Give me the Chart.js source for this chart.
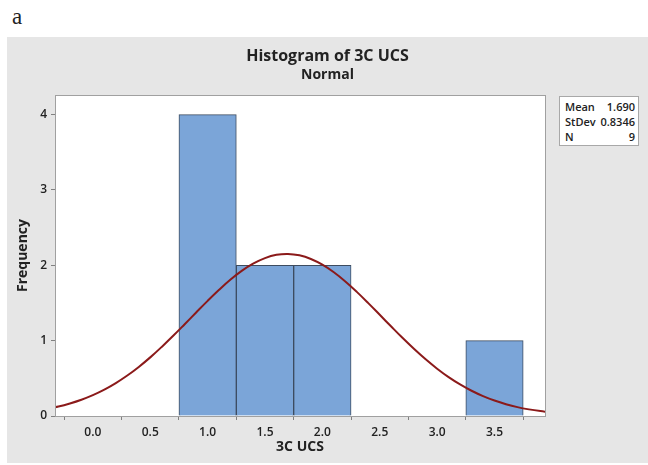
<!DOCTYPE html>
<html>
<head>
<meta charset="utf-8">
<script src="https://cdn.jsdelivr.net/npm/chart.js@4.4.1/dist/chart.umd.min.js"></script>
<style>
  html, body { margin: 0; padding: 0; background: #ffffff; width: 648px; height: 465px; overflow: hidden; }
  #lbl { position: absolute; left: 12px; top: 4px; font-family: "Liberation Serif", "DejaVu Serif", serif; font-size: 23px; color: #222; }
  #panel { position: absolute; left: 7px; top: 37px; width: 641px; height: 426px; background: #e6e6e6; }
  #stats { position: absolute; left: 559px; top: 96px; width: 80px; height: 50px; background: #fff; border: 1px solid #a8a8a8;
           font-family: "Open Sans", "Noto Sans", sans-serif; font-size: 11px; font-weight: 600; color: #222; line-height: 15px; padding-top: 2px; box-sizing: border-box; }
  #stats div { display: flex; justify-content: space-between; padding: 0 3px 0 5px; }
</style>
</head>
<body>
<div id="lbl">a</div>
<div id="panel"><canvas id="c" width="641" height="426"></canvas></div>
<div id="stats">
  <div><span>Mean</span><span>1.690</span></div>
  <div><span>StDev</span><span>0.8346</span></div>
  <div><span>N</span><span>9</span></div>
</div>
<script>
// Histogram bins (bin centers, width 0.5) and counts
const binCenters = [1.0, 1.5, 2.0, 3.5];
const binCounts  = [4, 2, 2, 1];
// Fitted normal curve (Mean 1.690, StDev 0.8346, N 9) read as points
const curveX = [-0.4,-0.3,-0.2,-0.1,0.0,0.1,0.2,0.3,0.4,0.5,0.6,0.7,0.8,0.9,1.0,1.1,1.2,1.3,1.4,1.5,1.6,1.7,1.8,1.9,2.0,2.1,2.2,2.3,2.4,2.5,2.6,2.7,2.8,2.9,3.0,3.1,3.2,3.3,3.4,3.5,3.6,3.7,3.8,3.9,4.0];
const curveY = [0.094,0.125,0.166,0.216,0.277,0.350,0.437,0.537,0.651,0.778,0.917,1.064,1.218,1.374,1.528,1.675,1.811,1.929,2.025,2.096,2.139,2.151,2.132,2.084,2.008,1.907,1.785,1.647,1.498,1.343,1.187,1.034,0.888,0.752,0.628,0.516,0.419,0.335,0.264,0.205,0.157,0.118,0.088,0.065,0.047];
const xTicks = [0.0, 0.5, 1.0, 1.5, 2.0, 2.5, 3.0, 3.5];
const yTicks = [0, 1, 2, 3, 4];

const FONT = '"Open Sans", "Noto Sans", sans-serif';

const frame = {
  id: 'frame',
  beforeDatasetsDraw(chart) {
    const a = chart.chartArea, ctx = chart.ctx;
    ctx.save();
    ctx.fillStyle = '#ffffff';
    ctx.fillRect(a.left, a.top, a.right - a.left, a.bottom - a.top);
    ctx.restore();
  },
  afterDraw(chart) {
    const a = chart.chartArea, ctx = chart.ctx;
    ctx.save();
    ctx.strokeStyle = '#a0a0a0';
    ctx.lineWidth = 1;
    ctx.strokeRect(a.left + 0.5, a.top + 0.5, a.right - a.left, a.bottom - a.top);
    ctx.restore();
  }
};

new Chart(document.getElementById('c'), {
  data: {
    datasets: [
      {
        type: 'line',
        data: curveX.map((x, i) => ({ x: x, y: curveY[i] })),
        borderColor: '#8b1a1a',
        borderWidth: 2,
        pointRadius: 0,
        tension: 0.4,
        fill: false,
        order: 0
      },
      {
        type: 'bar',
        data: binCenters.map((x, i) => ({ x: x, y: binCounts[i] })),
        backgroundColor: '#7ba5d8',
        borderColor: '#3d4c60',
        borderWidth: 1,
        barPercentage: 1.0,
        categoryPercentage: 1.0,
        order: 1
      }
    ]
  },
  options: {
    responsive: false,
    animation: false,
    layout: { padding: { left: 0, right: 0, top: 0, bottom: 0 } },
    plugins: {
      legend: { display: false },
      tooltip: { enabled: false },
      title: {
        display: true,
        text: 'Histogram of 3C UCS',
        color: '#222',
        font: { family: FONT, size: 16, weight: 'bold' },
        padding: { top: 10, bottom: 0 }
      },
      subtitle: {
        display: true,
        text: 'Normal',
        color: '#222',
        font: { family: FONT, size: 14, weight: 'bold' },
        padding: { top: 0, bottom: 12 }
      }
    },
    scales: {
      x: {
        type: 'linear',
        min: -0.33,
        max: 3.94,
        offset: false,
        afterFit(s) { s.height = 47; },
        afterBuildTicks(s) { s.ticks = xTicks.map(v => ({ value: v })); },
        grid: { drawOnChartArea: false, tickLength: 4, color: '#808080' },
        border: { display: true, color: '#a0a0a0' },
        ticks: {
          padding: 5,
          color: '#222',
          font: { family: FONT, size: 12, weight: '600' },
          callback: v => Number(v).toFixed(1)
        },
        title: {
          display: true,
          text: '3C UCS',
          color: '#222',
          font: { family: FONT, size: 14, weight: 'bold' },
          padding: { top: 0, bottom: 8 }
        }
      },
      y: {
        type: 'linear',
        min: 0,
        max: 4.26,
        afterFit(s) { s.width = 48; },
        afterBuildTicks(s) { s.ticks = yTicks.map(v => ({ value: v })); },
        grid: { drawOnChartArea: false, tickLength: 4, color: '#808080' },
        border: { display: true, color: '#a0a0a0' },
        ticks: {
          padding: 4,
          color: '#222',
          font: { family: FONT, size: 12, weight: '600' },
          callback: v => String(v)
        },
        title: {
          display: true,
          text: 'Frequency',
          color: '#222',
          font: { family: FONT, size: 14, weight: 'bold' },
          padding: { top: 8, bottom: 0 }
        }
      },
      yRight: {
        type: 'linear',
        position: 'right',
        min: 0,
        max: 4.26,
        afterFit(s) { s.width = 103; },
        grid: { display: false },
        border: { display: false },
        ticks: { display: false },
        title: { display: false }
      }
    }
  },
  plugins: [frame]
});
</script>
</body>
</html>
